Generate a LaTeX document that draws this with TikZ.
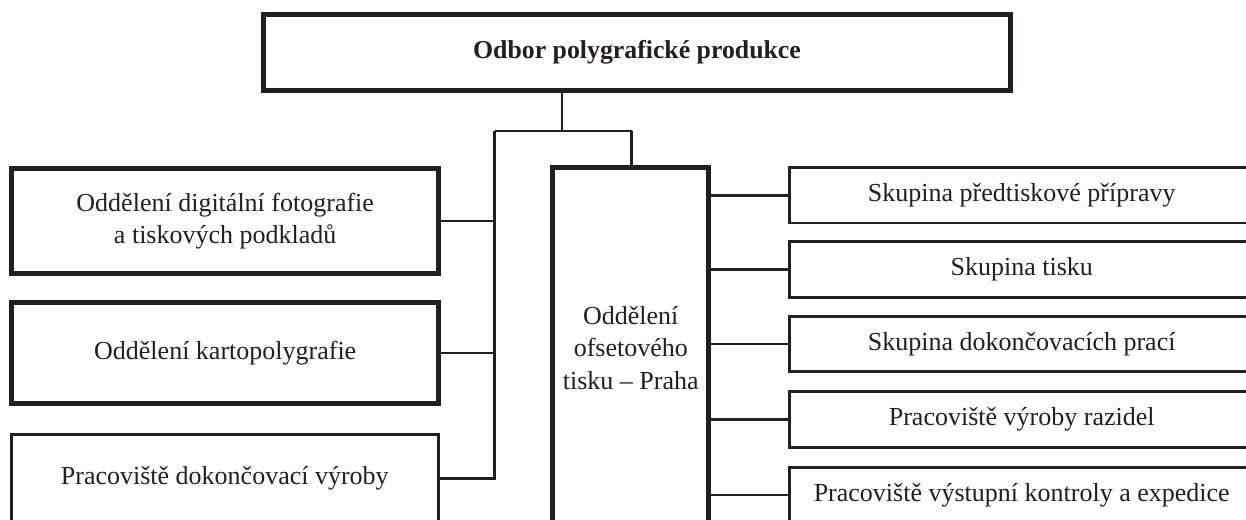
\documentclass[tikz,border=0pt]{standalone}
\usepackage{fontspec}
\setmainfont{Liberation Serif}
\definecolor{ink}{HTML}{231F20}
\begin{document}
\begin{tikzpicture}[x=1pt,y=-1pt,
  box/.style={draw=ink,rectangle,inner sep=0pt,align=center,text=ink,
    font=\fontsize{26}{32.5}\selectfont},
  heavy/.style={box,line width=5pt},
  light/.style={box,line width=2.8pt},
  link/.style={draw=ink,line width=2.6pt}]
\useasboundingbox (0,0) rectangle (1246,519);
\clip (0,0) rectangle (1246,519);
\fill[white] (0,0) rectangle (1246,519);

% head of the unit
\node[heavy,minimum width=747pt,minimum height=76.5pt,
  font=\fontsize{25.8}{32}\selectfont\bfseries] (top) at (637,52.3)
  {Odbor polygrafické produkce};

% left column
\node[heavy,minimum width=427pt,minimum height=105pt] (b1) at (225.2,220.9)
  {Oddělení digitální fotografie\\a tiskových podkladů};
\node[heavy,minimum width=427pt,minimum height=101pt] (b2) at (225.2,352.9)
  {Oddělení kartopolygrafie};
\node[light,minimum width=427pt,minimum height=88pt] (b3) at (224.8,478.3)
  {Pracoviště dokončovací výroby};

% offset printing department
\node[heavy,minimum width=155.7pt,minimum height=361pt] (of) at (630.8,348)
  {Oddělení\\ofsetového\\tisku – Praha};

% groups under the offset department
\node[light,minimum width=464.5pt,minimum height=55.5pt] (r1) at (1021.7,195.2)
  {Skupina předtiskové přípravy};
\node[light,minimum width=464.5pt,minimum height=55.5pt] (r2) at (1021.7,269.5)
  {Skupina tisku};
\node[light,minimum width=464.5pt,minimum height=55.5pt] (r3) at (1021.7,344)
  {Skupina dokončovacích prací};
\node[light,minimum width=464.5pt,minimum height=55.5pt] (r4) at (1021.7,419.5)
  {Pracoviště výroby razidel};
\node[light,minimum width=464.5pt,minimum height=55.5pt] (r5) at (1021.7,495)
  {Pracoviště výstupní kontroly a expedice};

% tree connectors
\coordinate (stem) at (562,131);
\coordinate (lb) at (494.5,131);
\coordinate (rb) at (631.7,131);
\draw[link] (top.south -| stem) -- (stem);
\draw[link] (lb) -- (rb);
\draw[link] (rb) -- (rb |- of.north);
\draw[link] (lb) |- (b3.east);
\draw[link] (lb |- b1.east) -- (b1.east);
\draw[link] (lb |- b2.east) -- (b2.east);
\foreach \r in {r1,r2,r3,r4,r5}
  \draw[link] (of.east |- \r.west) -- (\r.west);
\end{tikzpicture}
\end{document}
